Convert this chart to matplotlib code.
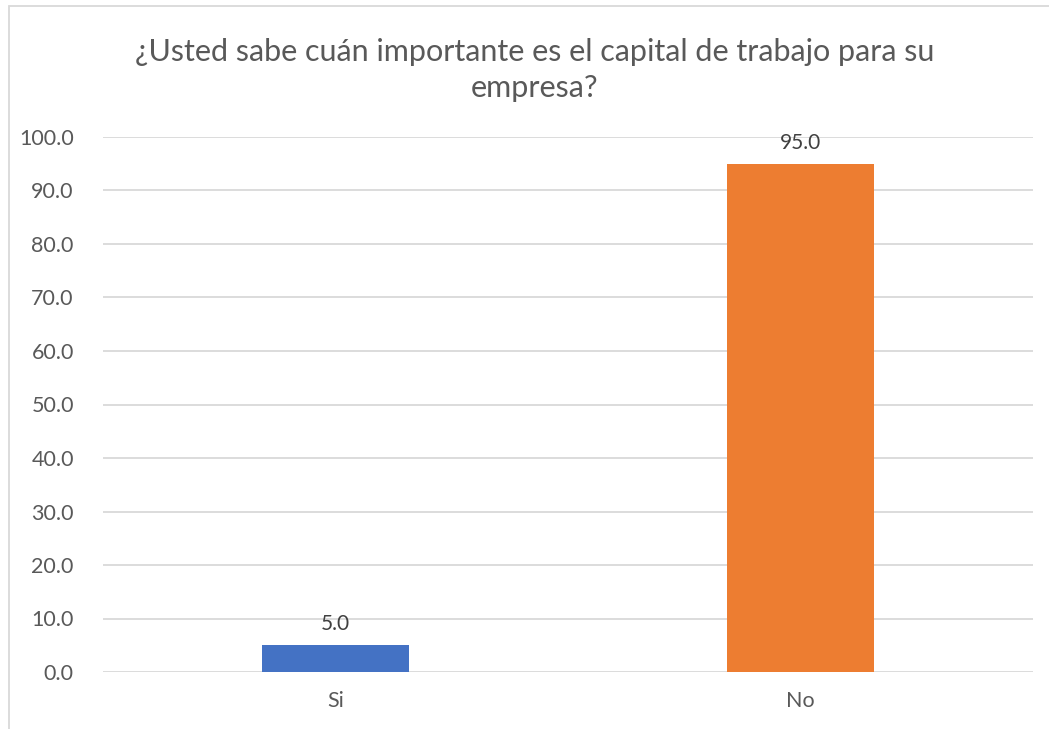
import matplotlib.pyplot as plt
from matplotlib.patches import Rectangle

categories = ['Si', 'No']
values = [5.0, 95.0]
colors = ['#4472C4', '#ED7D31']

plt.rcParams['font.family'] = ['Lato', 'DejaVu Sans']

W, H = 1049, 729
fig = plt.figure(figsize=[W / 100, H / 100], dpi=100)
ax = fig.add_axes([103 / W, 1 - 672 / H, (1033 - 103) / W, (672 - 137) / H])

# chart frame
fig.patches.append(Rectangle((9 / W, -0.05), 1.2, 1 - 6 / H + 0.05, transform=fig.transFigure,
                             fill=False, edgecolor='#d9d9d9', linewidth=1.3))

bars = ax.bar(range(len(categories)), values, width=0.314, color=colors, zorder=3)
for b, v in zip(bars, values):
    ax.annotate(f'{v:.1f}', (b.get_x() + b.get_width() / 2, v), xytext=(0, 8),
                textcoords='offset points', ha='center', va='bottom', fontsize=15, color='#404040')

ax.set_xlim(-0.5, 1.5)
ax.set_ylim(0, 100)
ax.set_yticks(range(0, 101, 10))
ax.set_yticklabels([f'{t:.1f}' for t in range(0, 101, 10)])
ax.set_xticks(range(len(categories)))
ax.set_xticklabels(categories)
ax.tick_params(axis='both', length=0, labelsize=15.5, labelcolor='#595959')
ax.tick_params(axis='y', pad=21)
ax.tick_params(axis='x', pad=14)
ax.grid(axis='y', color='#d9d9d9', linewidth=1.3, zorder=0)
ax.set_axisbelow(True)
for s in ax.spines.values():
    s.set_visible(False)

fig.text(535 / W, 1 - 70 / H, '¿Usted sabe cuán importante es el capital de trabajo para su\nempresa?',
         ha='center', va='center', fontsize=22, color='#595959', linespacing=1.35)

fig.savefig('out.png', dpi=100)
